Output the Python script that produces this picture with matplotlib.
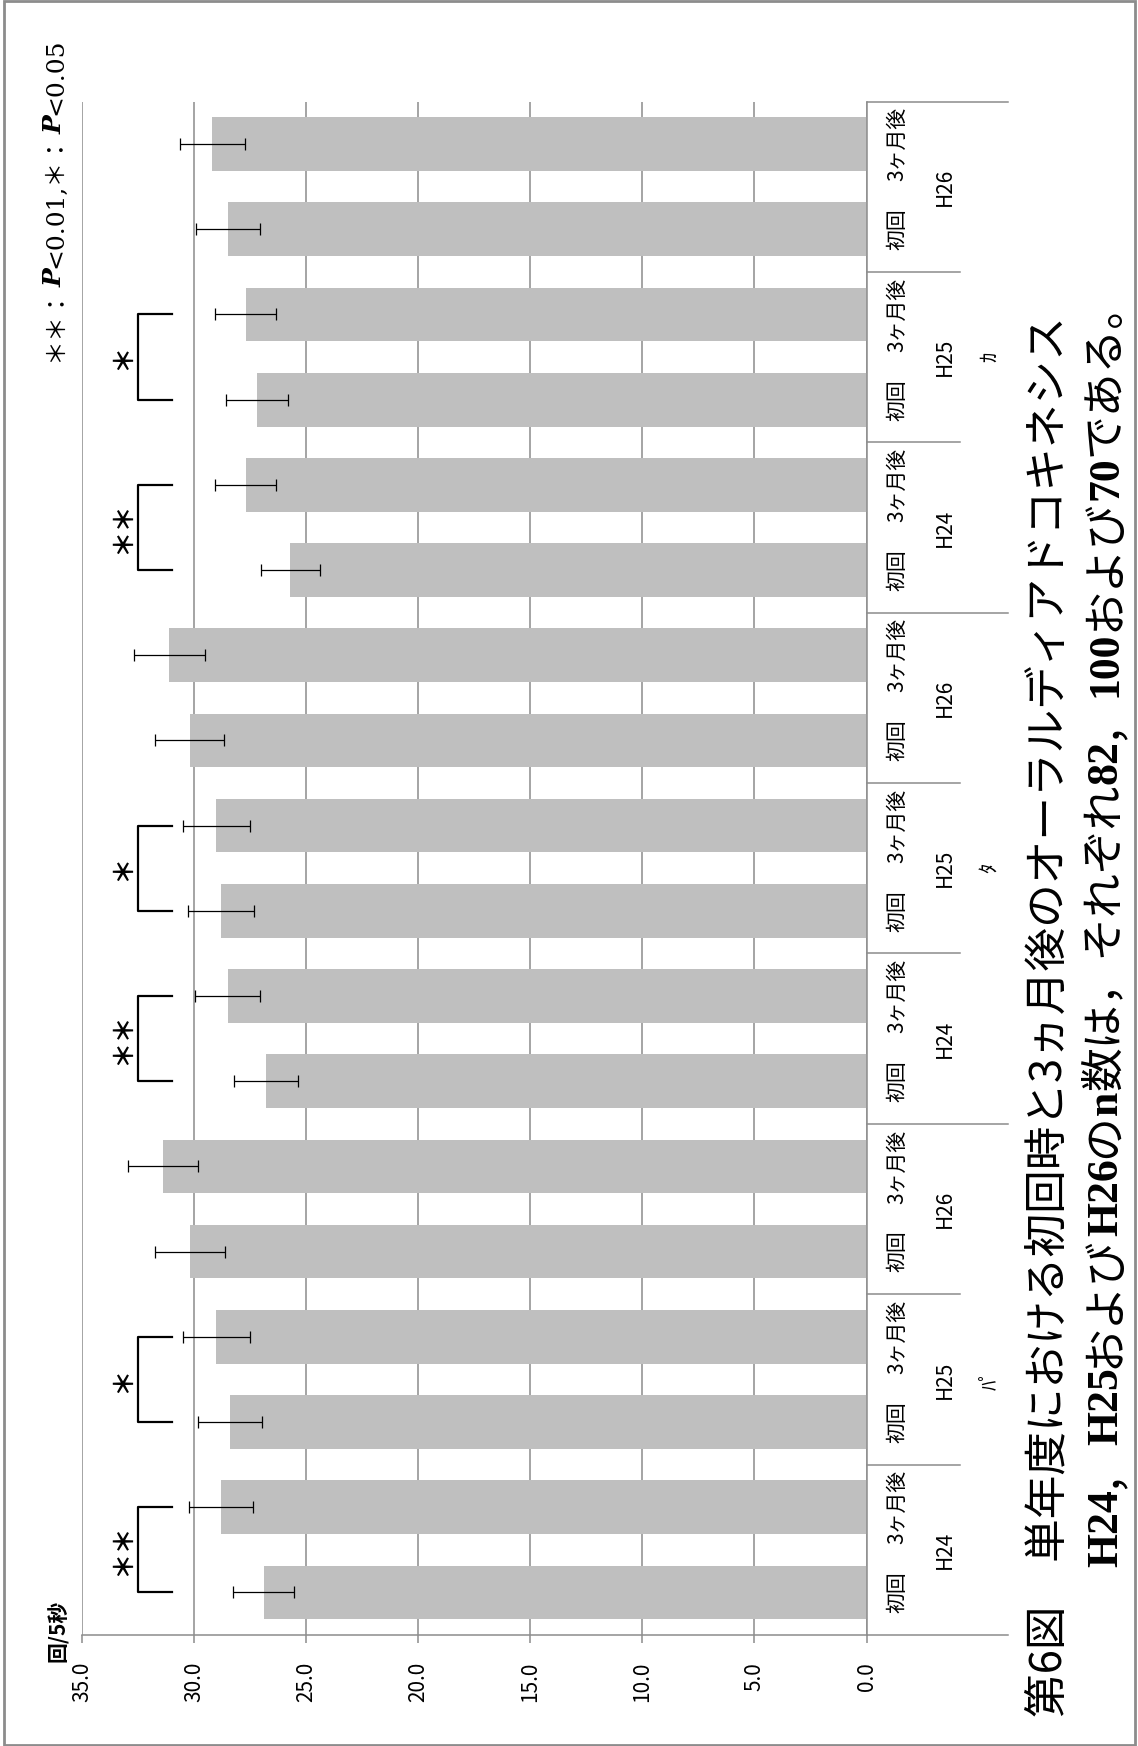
import matplotlib
matplotlib.use("Agg")
import matplotlib.pyplot as plt
from matplotlib.patches import Rectangle
from matplotlib.transforms import blended_transform_factory

plt.rcParams["font.family"] = ["Noto Sans CJK JP", "DejaVu Sans"]

# データ（下から上へ：パ H24 初回 … カ H26 3ヶ月後）
groups = ["ﾊﾟ", "ﾀ", "ｶ"]
years = ["H24", "H25", "H26"]
times = ["初回", "3ヶ月後"]
means = [26.9, 28.8, 28.4, 29.0, 30.2, 31.4,
         26.8, 28.5, 28.8, 29.0, 30.2, 31.1,
         25.7, 27.7, 27.2, 27.7, 28.5, 29.2]
errs = [1.35, 1.43, 1.44, 1.49, 1.56, 1.56,
        1.42, 1.44, 1.47, 1.49, 1.54, 1.57,
        1.32, 1.37, 1.37, 1.37, 1.43, 1.45]
sig_pairs = [(0, "＊＊"), (2, "＊"), (6, "＊＊"), (8, "＊"), (12, "＊＊"), (14, "＊")]
yticks = [0, 5, 10, 15, 20, 25, 30, 35]

W, H = 1138, 1746
def fx(px):
    return px / W
def fy(py):
    return 1 - py / H

GRID = "#8c8c8c"
SERIF = ["Liberation Serif", "Noto Sans CJK JP"]
DSERIF = ["DejaVu Serif", "Noto Sans CJK JP"]
CJK = ["Noto Sans CJK JP", "DejaVu Sans"]

fig = plt.figure(figsize=(W / 100, H / 100), dpi=100)
ax = fig.add_axes([fx(82), fy(1635), fx(866.5) - fx(82), fy(101.5) - fy(1635)])

pos = list(range(len(means)))
ax.barh(pos, means, height=0.63, color="#bfbfbf", xerr=errs,
        error_kw=dict(ecolor="black", elinewidth=0.9, capsize=4, capthick=0.9))
ax.set_xlim(35, 0)
ax.set_ylim(-0.5, 17.5)
ax.set_xticks(yticks)
ax.set_xticklabels([f"{v:.1f}" for v in yticks], rotation=90)
ax.tick_params(axis="x", length=5.5, width=1.1, color=GRID, labelsize=15, pad=14)
ax.tick_params(axis="y", left=False, labelleft=False)
ax.grid(axis="x", color=GRID, lw=1.1)
ax.set_axisbelow(True)
for s in ["top", "left"]:
    ax.spines[s].set_visible(False)
for s in ["bottom", "right"]:
    ax.spines[s].set_color(GRID)
    ax.spines[s].set_linewidth(1.1)

# カテゴリラベル（多段）
trans = blended_transform_factory(fig.transFigure, ax.transData)
for i in pos:
    fig.text(fx(897), i, times[i % 2], transform=trans, rotation=90,
             ha="center", va="center", fontsize=15)
for k in range(9):
    fig.text(fx(945), 2 * k + 0.5, years[k % 3], transform=trans, rotation=90,
             ha="center", va="center", fontsize=15)
for g in range(3):
    fig.text(fx(990), 6 * g + 2.5, groups[g], transform=trans, rotation=90,
             ha="center", va="center", fontsize=15)

# 区切り線
for b in [1.5, 3.5, 7.5, 9.5, 13.5, 15.5]:
    ax.plot([fx(866.5), fx(960)], [b, b], transform=trans, color=GRID, lw=1.1, clip_on=False)
for b in [-0.5, 5.5, 11.5, 17.5]:
    ax.plot([fx(866.5), fx(1008)], [b, b], transform=trans, color=GRID, lw=1.1, clip_on=False)

# 有意差
for i, s in sig_pairs:
    ax.plot([31.0, 32.5, 32.5, 31.0], [i, i, i + 1, i + 1], color="black", lw=1.6, clip_on=False)
    ax.text(33.2, i + 0.5, s, rotation=90, ha="center", va="center", fontsize=19, weight="bold")

fig.text(fx(65), fy(1662), "回/5秒", rotation=90, rotation_mode="anchor",
         ha="left", va="baseline", fontsize=15, weight="bold")


def chain(x_px, y_px, parts, size):
    prev = fig.text(fx(x_px), fy(y_px), parts[0][0], rotation=90, rotation_mode="anchor",
                    ha="left", va="baseline", fontsize=size, **parts[0][1])
    for s, kw in parts[1:]:
        prev = ax.annotate(s, xy=(fx(x_px), 1.0), xycoords=("figure fraction", prev),
                           rotation=90, rotation_mode="anchor", ha="left", va="baseline",
                           fontsize=size, annotation_clip=False, **kw)


bi = dict(family=DSERIF, weight="bold", style="italic")
chain(62, 362, [("＊＊：", dict(family=DSERIF)), ("P", bi), ("<0.01,＊：", dict(family=DSERIF)),
                ("P", bi), ("<0.05", dict(family=DSERIF))], 18)

fig.text(fx(1061), fy(1717), "第6図　単年度における初回時と3ヵ月後のオーラルディアドコキネシス",
         rotation=90, rotation_mode="anchor", ha="left", va="baseline", fontsize=31.4)

bd = dict(family=SERIF, weight="bold")
cj = dict(family=CJK)
chain(1117, 1567, [("H24", bd), ("，", cj), ("H25", bd), ("および", cj), ("H26", bd),
                   ("の", cj), ("n", bd), ("数は，それぞれ", cj), ("82", bd), ("，", cj),
                   ("100", bd), ("および", cj), ("70", bd), ("である。", cj)], 31.5)

fig.add_artist(Rectangle((fx(4), fy(1745)), fx(1135) - fx(4), fy(1) - fy(1745),
                         transform=fig.transFigure, fill=False, edgecolor=GRID, lw=2))

fig.savefig("out.png", dpi=100)
